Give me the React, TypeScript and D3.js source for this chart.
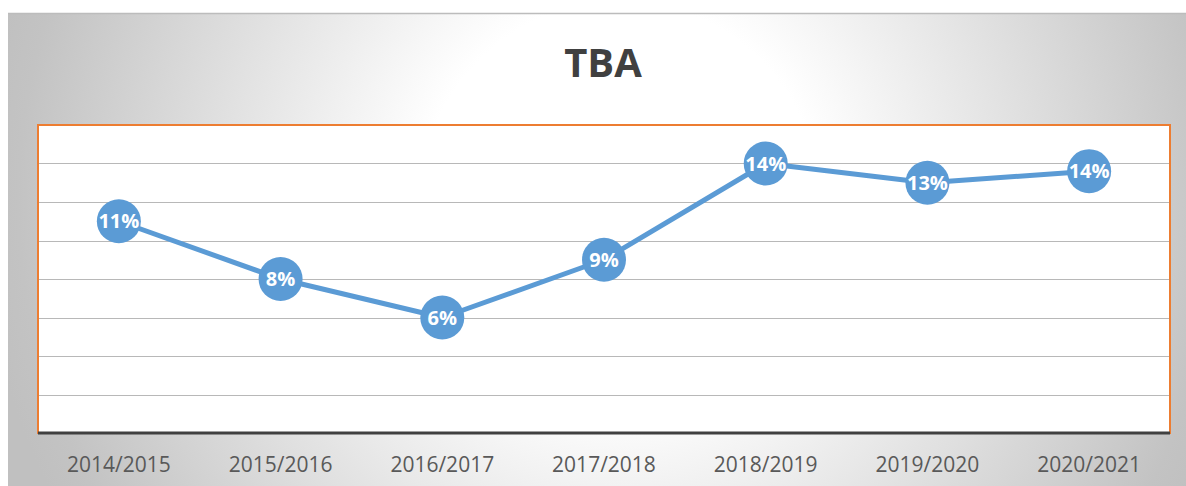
import React from "react";
import * as d3 from "d3";

const categories = ["2014/2015", "2015/2016", "2016/2017", "2017/2018", "2018/2019", "2019/2020", "2020/2021"];
const values = [0.11, 0.08, 0.06, 0.09, 0.14, 0.13, 0.136];
const labels = ["11%", "8%", "6%", "9%", "14%", "13%", "14%"];
const yTicks = [0, 0.02, 0.04, 0.06, 0.08, 0.1, 0.12, 0.14, 0.16];
const title = "TBA";

const W = 1186;
const H = 486;
const plot = { left: 38, right: 1170, top: 125, bottom: 433 };

export default function App() {
  const x = d3.scaleBand<string>().domain(categories).range([plot.left, plot.right]).padding(0);
  const y = d3.scaleLinear().domain([0, 0.16]).range([plot.bottom, plot.top]);
  const cx = (c: string) => (x(c) ?? 0) + x.bandwidth() / 2;
  const line = d3
    .line<number>()
    .x((_, i) => cx(categories[i]))
    .y((d) => y(d));

  return (
    <svg
      width={W}
      height={H}
      style={{ position: "absolute", left: 0, top: 0, display: "block" }}
      fontFamily="'Open Sans', sans-serif"
    >
      <defs>
        <radialGradient id="bg" gradientUnits="userSpaceOnUse" cx={620} cy={200} r={640}>
          <stop offset="0" stopColor="#ffffff" />
          <stop offset="0.31" stopColor="#ffffff" />
          <stop offset="0.94" stopColor="#c3c3c3" />
          <stop offset="1" stopColor="#c0c0c0" />
        </radialGradient>
      </defs>
      <rect x={0} y={0} width={W} height={H} fill="#ffffff" />
      <rect x={8} y={13} width={W - 8} height={H - 13} fill="url(#bg)" />
      <line x1={8} x2={W} y1={13.5} y2={13.5} stroke="#bcbcbc" strokeWidth={1.5} />

      {/* plot area */}
      <rect
        x={plot.left}
        y={plot.top}
        width={plot.right - plot.left}
        height={plot.bottom - plot.top}
        fill="#ffffff"
        stroke="#ed7d31"
        strokeWidth={2}
      />
      {yTicks.slice(1, -1).map((t) => (
        <line
          key={t}
          x1={plot.left + 1}
          x2={plot.right - 1}
          y1={Math.round(y(t)) + 0.5}
          y2={Math.round(y(t)) + 0.5}
          stroke="#b8b8b8"
          strokeWidth={1}
        />
      ))}
      <line x1={plot.left} x2={plot.right} y1={plot.bottom} y2={plot.bottom} stroke="#404040" strokeWidth={3} />

      {/* title */}
      <text x={603} y={77} textAnchor="middle" fontSize={40} fontWeight="bold" fill="#404040">
        {title}
      </text>

      {/* x labels */}
      {categories.map((c) => (
        <text key={c} x={cx(c)} y={472} textAnchor="middle" fontSize={21} fill="#595959">
          {c}
        </text>
      ))}

      {/* series */}
      <path d={line(values) ?? ""} fill="none" stroke="#5b9bd5" strokeWidth={5} strokeLinejoin="round" />
      {values.map((v, i) => (
        <g key={i}>
          <circle cx={cx(categories[i])} cy={y(v)} r={22} fill="#5b9bd5" />
          <text
            x={cx(categories[i])}
            y={y(v)}
            dy="0.36em"
            textAnchor="middle"
            fontSize={20}
            fontWeight="bold"
            fill="#ffffff"
          >
            {labels[i]}
          </text>
        </g>
      ))}
    </svg>
  );
}
